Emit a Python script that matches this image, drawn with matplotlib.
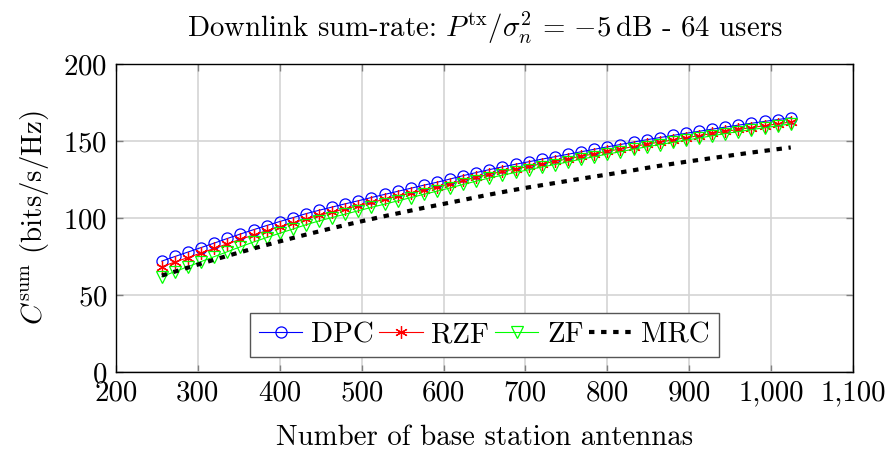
import matplotlib
matplotlib.use("Agg")
import matplotlib.pyplot as plt

plt.rcParams["font.family"] = ["cmr10", "DejaVu Serif"]
plt.rcParams["mathtext.fontset"] = "cm"
plt.rcParams["axes.formatter.use_mathtext"] = True
plt.rcParams["font.size"] = 20.8

# Number of base station antennas (M = 256, 272, ..., 1024)
antennas = list(range(256, 1025, 16))

dpc = [72.0, 75.0, 77.9, 80.8, 83.7, 86.7, 89.6, 92.4, 95.1, 97.7,
       100.2, 102.8, 105.0, 107.1, 109.2, 111.2, 113.3, 115.3, 117.3, 119.3,
       121.3, 123.2, 125.3, 127.5, 129.5, 131.4, 133.2, 134.9, 136.5, 138.2,
       139.8, 141.4, 143.0, 144.6, 146.2, 147.7, 149.3, 150.8, 152.2, 153.6,
       155.0, 156.3, 157.7, 159.0, 160.3, 161.5, 162.7, 163.9, 165.1]

rzf = [68.4, 71.4, 74.3, 77.3, 80.2, 83.2, 86.1, 89.0, 91.7, 94.3,
       96.8, 99.4, 101.7, 103.8, 105.9, 108.0, 110.1, 112.1, 114.1, 116.1,
       118.2, 120.1, 122.2, 124.4, 126.4, 128.4, 130.2, 131.9, 133.5, 135.2,
       136.8, 138.4, 140.1, 141.7, 143.3, 144.8, 146.4, 147.9, 149.3, 150.7,
       152.1, 153.4, 154.9, 156.2, 157.5, 158.7, 159.9, 161.1, 162.3]

zf = [61.9, 65.2, 68.4, 71.7, 74.9, 78.1, 81.3, 84.4, 87.3, 90.1,
      92.8, 95.6, 98.1, 100.3, 102.5, 104.7, 106.9, 109.0, 111.1, 113.2,
      115.4, 117.4, 119.5, 121.8, 123.9, 126.0, 127.8, 129.6, 131.3, 133.1,
      134.7, 136.4, 138.2, 139.8, 141.5, 143.0, 144.7, 146.2, 147.7, 149.1,
      150.6, 151.9, 153.4, 154.8, 156.1, 157.4, 158.6, 159.9, 161.1]

mrc = [62.6, 65.2, 67.8, 70.4, 72.9, 75.4, 77.8, 80.2, 82.5, 84.8,
       87.0, 89.2, 91.3, 93.4, 95.4, 97.4, 99.3, 101.2, 103.0, 104.8,
       106.6, 108.3, 110.0, 111.7, 113.5, 115.2, 116.8, 118.4, 119.9, 121.3,
       122.7, 124.1, 125.5, 126.9, 128.2, 129.6, 131.0, 132.5, 133.9, 135.2,
       136.5, 137.7, 138.9, 140.1, 141.3, 142.5, 143.6, 144.7, 145.8]

x_ticks = [200, 300, 400, 500, 600, 700, 800, 900, 1000, 1100]
x_tick_labels = ["200", "300", "400", "500", "600", "700", "800", "900",
                 "1,000", "1,100"]
y_ticks = [0, 50, 100, 150, 200]

fig = plt.figure(figsize=(8.9, 4.58), dpi=100)
ax = fig.add_axes([0.1303, 0.1878, 0.8281, 0.6725])

ax.plot(antennas, dpc, color="#0000ff", lw=0.8, marker="o", ms=8,
        mfc="none", mec="#0000ff", mew=0.9, label="DPC")
ax.plot(antennas, rzf, color="#ff0000", lw=0.8, marker=(6, 2, 0), ms=9,
        mec="#ff0000", mew=0.9, label="RZF")
ax.plot(antennas, zf, color="#00ff00", lw=0.8, marker="v", ms=8,
        mfc="none", mec="#00ff00", mew=0.9, label="ZF")
ax.plot(antennas, mrc, color="black", lw=3.0, linestyle=(0, (1.3, 1.6)),
        dash_capstyle="butt", label="MRC")

ax.set_xlim(200, 1100)
ax.set_ylim(0, 200)
ax.set_xticks(x_ticks)
ax.set_xticklabels(x_tick_labels)
ax.set_yticks(y_ticks)

ax.grid(True, color="#d4d4d4", lw=1.2)
ax.set_axisbelow(True)
ax.tick_params(direction="in", length=5, width=1, color="#808080",
               top=True, right=True, labelsize=20.8, pad=6)
for sp in ax.spines.values():
    sp.set_linewidth(1.0)

ax.set_xlabel("Number of base station antennas", fontsize=20.8, labelpad=13)
ax.set_ylabel(r"$C^{\mathrm{sum}}$ (bits/s/Hz)", fontsize=20.8, labelpad=9)
ax.set_title(r"Downlink sum-rate: $P^{\mathrm{tx}}/\sigma_n^2 \,=\, {-5}\,\mathrm{dB}$ - 64 users",
             fontsize=20.8, pad=20)

leg = ax.legend(loc="lower center", bbox_to_anchor=(0.5, 0.049), ncol=4,
                numpoints=1, handlelength=1.5, handletextpad=0.3,
                columnspacing=0.2, borderpad=0.3, borderaxespad=0,
                fancybox=False, framealpha=1, edgecolor="#555555",
                fontsize=20.8)
leg.get_frame().set_linewidth(1.0)

fig.savefig("out.png", dpi=100)
